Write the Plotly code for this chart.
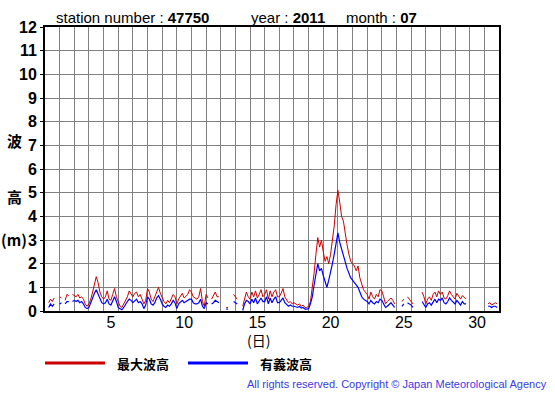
import plotly.graph_objects as go

# ---- data (3-hourly estimates, July 2011, station 47750) ----
days = list(range(1, 32))
hours = [0, 3, 6, 9, 12, 15, 18, 21]
N = None
max_wave = [  # 最大波高 (m)
    [N, N, 0.35, 0.5, 0.4, 0.55, N, N],
    [0.6, 0.55, N, 0.45, 0.7, 0.65, N, 0.7],
    [0.65, 0.6, 0.7, 0.55, 0.6, 0.5, 0.3, 0.2],
    [0.3, 0.5, 0.8, 1.1, 1.45, 1.2, 0.8, 0.6],
    [0.5, 0.6, 0.85, 0.5, 0.45, 0.7, 0.95, 0.6],
    [0.4, 0.2, 0.15, 0.3, 0.5, 0.6, 0.85, 0.7],
    [0.6, 0.75, 0.8, 0.6, 0.7, 0.5, 0.3, 0.45],
    [0.95, 0.8, 0.5, 0.4, 0.6, 0.85, 1.0, 0.75],
    [0.55, 0.4, 0.3, 0.45, 0.35, 0.5, 0.7, 0.6],
    [0.3, 0.5, 0.6, 0.75, 0.55, 0.65, 0.7, 0.9],
    [0.8, 0.6, 0.55, 0.5, 0.6, 0.95, 0.4, 0.2],
    [0.7, 0.55, N, 0.5, 0.65, 0.8, 0.6, 0.6],
    [N, N, N, 0.15, 0.15, N, N, 0.7],
    [0.6, 0.5, N, N, 0.2, 0.5, 0.8, 0.6],
    [0.5, 0.8, 0.6, 0.85, 0.55, 0.7, 0.9, 0.6],
    [0.7, 0.9, 0.5, 0.85, 0.6, 0.8, 0.9, 0.6],
    [0.6, 0.75, 0.95, 0.6, 0.45, 0.35, 0.4, 0.3],
    [0.35, 0.3, 0.25, 0.3, 0.2, 0.25, 0.15, 0.15],
    [0.2, 0.4, 0.9, 1.6, 2.4, 3.1, 2.7, 3.0],
    [2.5, 2.1, 2.3, 2.0, 2.4, 3.0, 3.6, 4.5],
    [5.1, 4.6, 4.0, 3.8, 3.2, 2.8, 2.4, 2.1],
    [2.0, 1.9, 1.7, 1.9, 1.4, 1.1, 0.9, 0.8],
    [0.7, 0.5, 0.8, 0.6, 0.5, 0.7, 0.6, 0.9],
    [0.85, 0.6, 0.3, 0.4, 0.5, 0.55, 0.45, 0.3],
    [N, N, N, 0.4, 0.5, N, 0.6, 0.5],
    [0.4, 0.3, N, N, N, N, 0.8, 0.6],
    [0.3, 0.5, 0.6, 0.45, 0.7, 0.8, 0.6, 0.85],
    [0.7, 0.8, 0.55, 0.5, 0.65, 0.85, 0.7, 0.6],
    [0.5, 0.75, 0.6, 0.5, 0.65, 0.55, 0.5, N],
    [N, N, N, N, N, N, 0.35, N],
    [N, N, 0.3, 0.35, 0.25, 0.3, 0.35, 0.3],
]
sig_wave = [  # 有義波高 (m)
    [N, N, 0.15, 0.3, 0.2, 0.3, N, N],
    [0.3, 0.35, N, 0.3, 0.4, 0.4, N, 0.4],
    [0.45, 0.4, 0.45, 0.35, 0.4, 0.3, 0.15, 0.1],
    [0.15, 0.35, 0.6, 0.75, 0.9, 0.7, 0.5, 0.35],
    [0.3, 0.35, 0.5, 0.3, 0.25, 0.45, 0.6, 0.4],
    [0.15, 0.1, 0.05, 0.15, 0.3, 0.4, 0.5, 0.45],
    [0.35, 0.45, 0.5, 0.35, 0.4, 0.3, 0.1, 0.25],
    [0.6, 0.5, 0.3, 0.25, 0.35, 0.55, 0.65, 0.5],
    [0.3, 0.2, 0.15, 0.25, 0.2, 0.3, 0.45, 0.35],
    [0.1, 0.3, 0.4, 0.45, 0.35, 0.4, 0.45, 0.5],
    [0.5, 0.35, 0.3, 0.3, 0.35, 0.5, 0.2, 0.1],
    [0.35, 0.3, N, 0.3, 0.35, 0.45, 0.4, 0.35],
    [N, N, N, 0.08, 0.08, N, N, 0.4],
    [0.35, 0.3, N, N, 0.02, 0.3, 0.45, 0.4],
    [0.3, 0.5, 0.35, 0.55, 0.3, 0.45, 0.55, 0.4],
    [0.4, 0.6, 0.3, 0.55, 0.35, 0.5, 0.6, 0.35],
    [0.35, 0.45, 0.55, 0.35, 0.25, 0.2, 0.25, 0.2],
    [0.2, 0.18, 0.15, 0.2, 0.12, 0.15, 0.08, 0.08],
    [0.1, 0.3, 0.6, 1.1, 1.6, 2.0, 1.7, 1.8],
    [1.5, 1.2, 1.0, 1.3, 1.6, 2.0, 2.4, 2.9],
    [3.3, 2.9, 2.6, 2.4, 2.1, 1.8, 1.6, 1.4],
    [1.3, 1.2, 1.1, 1.0, 0.8, 0.6, 0.5, 0.45],
    [0.4, 0.3, 0.45, 0.35, 0.3, 0.4, 0.35, 0.5],
    [0.45, 0.3, 0.15, 0.2, 0.3, 0.35, 0.25, 0.15],
    [N, N, N, 0.2, 0.3, N, 0.35, 0.3],
    [0.25, 0.15, N, N, N, N, 0.4, 0.3],
    [0.15, 0.3, 0.35, 0.25, 0.4, 0.5, 0.35, 0.5],
    [0.45, 0.55, 0.35, 0.3, 0.4, 0.55, 0.45, 0.35],
    [0.3, 0.45, 0.35, 0.25, 0.4, 0.3, 0.3, N],
    [N, N, N, N, N, N, 0.3, N],
    [N, N, 0.2, 0.2, 0.15, 0.2, 0.2, 0.15],
]
x_tick_days = [5, 10, 15, 20, 25, 30]
y_ticks = list(range(0, 13))

# ---- build series ----
xs, ymax, ysig = [], [], []
for d, rm, rs in zip(days, max_wave, sig_wave):
    for h, vm, vs in zip(hours, rm, rs):
        xs.append(d + h / 24)
        ymax.append(vm)
        ysig.append(vs)

RED = "#cc0000"
BLUE = "#0000ff"
W, H = 555, 395
L, R, T, B = 45, 499, 27, 311

fig = go.Figure()
fig.add_trace(go.Scatter(x=xs, y=ymax, mode="lines", line=dict(color=RED, width=1),
                         connectgaps=False, showlegend=False))
fig.add_trace(go.Scatter(x=xs, y=ysig, mode="lines", line=dict(color=BLUE, width=1.2),
                         connectgaps=False, showlegend=False))
# invisible trace for the label axis
fig.add_trace(go.Scatter(x=[1, 32], y=[None, None], xaxis="x2", showlegend=False,
                         hoverinfo="skip"))

FONT = "Liberation Sans, Arial, Helvetica, sans-serif"
fig.update_layout(
    width=W, height=H,
    margin=dict(l=L, r=W - R, t=T, b=H - B, pad=0),
    paper_bgcolor="white", plot_bgcolor="white",
    font=dict(family=FONT, color="black"),
    xaxis=dict(range=[1, 32], tickmode="linear", tick0=1, dtick=1,
               showgrid=True, gridcolor="#808080", gridwidth=1,
               showticklabels=False, ticks="", zeroline=False,
               showline=True, linecolor="black", linewidth=2, mirror=True),
    xaxis2=dict(range=[1, 32], overlaying="x", anchor="y", side="bottom",
                tickmode="array", tickvals=[d + 0.5 for d in x_tick_days],
                ticktext=[str(d) for d in x_tick_days], showgrid=False,
                zeroline=False, showline=False, ticks="",
                tickfont=dict(size=16, family=FONT, color="black")),
    yaxis=dict(range=[0, 12], tickmode="array", tickvals=y_ticks,
               ticktext=[str(v) for v in y_ticks],
               showgrid=True, gridcolor="#808080", gridwidth=1, zeroline=False,
               ticks="outside", ticklen=3, tickcolor="black",
               tickfont=dict(size=16, family=FONT, color="black", weight="bold"),
               showline=True, linecolor="black", linewidth=2, mirror=True),
)

def px(x):
    return (x - L) / (R - L)

def py(y):
    return (B - y) / (B - T)

ann = []
def text(t, x, y, size, xanchor="left", color="black", weight="normal", family=FONT):
    ann.append(dict(text=t, x=px(x), y=py(y), xref="paper", yref="paper",
                    xanchor=xanchor, yanchor="middle", showarrow=False,
                    font=dict(size=size, color=color, family=family, weight=weight)))

text("station number : <b>47750</b>", 54, 17, 15)
text("year : <b>2011</b>", 249, 18, 15)
text("month : <b>07</b>", 344, 17, 15)
text("波", 14, 140, 15, xanchor="center", weight="bold", family="Noto Sans CJK JP")
text("高", 14, 196, 15, xanchor="center", weight="bold", family="Noto Sans CJK JP")
text("(m)", 14, 239, 15, xanchor="center", weight="bold", family="Noto Sans CJK JP")
text("(日)", 258, 340, 14, xanchor="center", family="Noto Sans CJK JP")
text("最大波高", 115, 363, 13, weight="bold", family="Noto Sans CJK JP")
text("有義波高", 258, 363, 13, weight="bold", family="Noto Sans CJK JP")
text("All rights reserved. Copyright © Japan Meteorological Agency", 549, 384, 11,
     xanchor="right", color="#3a3ae6")
fig.update_layout(annotations=ann)

fig.add_shape(type="line", xref="paper", yref="paper", x0=px(45), x1=px(105),
              y0=py(363), y1=py(363), line=dict(color=RED, width=3))
fig.add_shape(type="line", xref="paper", yref="paper", x0=px(188), x1=px(248),
              y0=py(363), y1=py(363), line=dict(color=BLUE, width=3))

fig.write_html("out.html", config={"displayModeBar": False},
               post_script="document.body.style.margin='0px';document.body.style.overflow='hidden';")
